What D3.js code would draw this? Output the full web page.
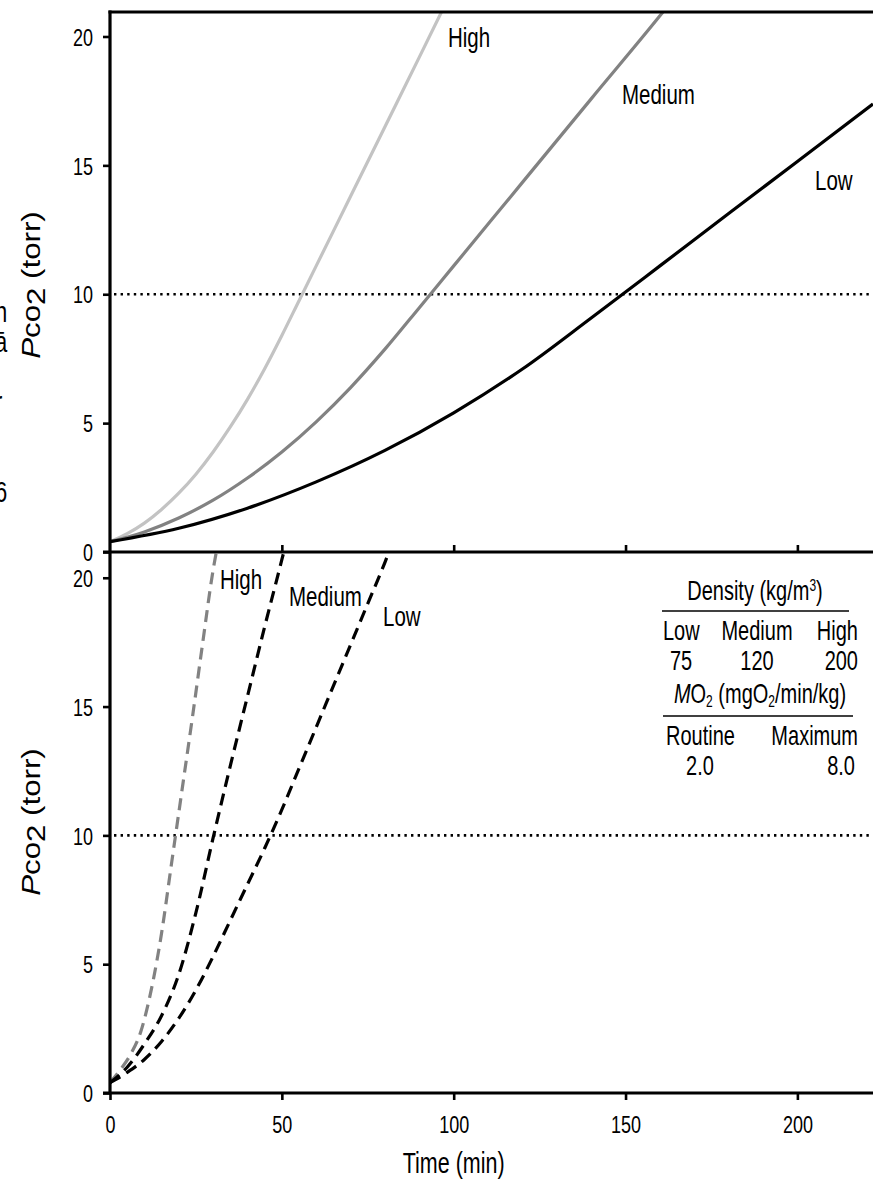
<!DOCTYPE html>
<html>
<head>
<meta charset="utf-8">
<script src="https://cdn.jsdelivr.net/npm/d3@7/dist/d3.min.js"></script>
<style>
  html, body { margin: 0; padding: 0; background: #fff; }
  svg { display: block; font-family: "Liberation Sans", Arial, sans-serif; }
</style>
</head>
<body>
<svg id="chart" width="873" height="1185"></svg>
<script>
// ---------------- DATA ----------------
const xTicks = [0, 50, 100, 150, 200];
const yTicks = [0, 5, 10, 15, 20];
const threshold = 10;

// Top panel (routine MO2), solid lines: [time(min), Pco2(torr)]
const topHigh = [[0,0.4],[5,0.71],[10,1.12],[15,1.65],[20,2.28],[25,3.02],[30,3.88],[35,4.85],[40,5.92],[45,7.11],[50,8.4],[55,9.75],[60,11.1],[70,13.8],[80,16.5],[90,19.2],[97,21.1]];
const topMedium = [[0,0.4],[10,0.78],[20,1.32],[30,2.01],[40,2.87],[50,3.88],[60,5.05],[70,6.38],[80,7.87],[90,9.48],[100,11.1],[120,14.34],[140,17.58],[160,20.8],[163,21.3]];
const topLow = [[0,0.4],[20,0.92],[40,1.7],[60,2.72],[80,3.94],[100,5.4],[120,7.1],[140,9.08],[160,11.1],[180,13.13],[200,15.15],[222,17.38]];

// Bottom panel (maximum MO2), dashed lines
const botHigh = [[0,0.4],[3,0.9],[6,1.5],[9,2.4],[12,4.0],[15,6.2],[18,9.0],[21,11.8],[24,14.6],[27,17.5],[30,20.3],[31.5,21.4]];
const botMedium = [[0,0.4],[5,1.0],[10,1.9],[15,3.0],[20,4.6],[25,7.0],[30,9.9],[35,12.7],[40,15.4],[45,18.1],[50,20.7],[51.5,21.5]];
const botLow = [[0,0.4],[5,0.8],[10,1.3],[15,2.0],[20,2.9],[25,4.0],[30,5.3],[35,6.7],[40,8.1],[45,9.5],[50,11.0],[55,12.6],[60,14.2],[65,15.8],[70,17.4],[75,19.0],[80,20.6],[82,21.3]];

const seriesNames = ["High", "Medium", "Low"];
const densityValues = ["75", "120", "200"];
const mo2Labels = ["Routine", "Maximum"];
const mo2Values = ["2.0", "8.0"];

// Fragments of cropped text at the left page edge
const edgeFragments = ["n", "ā", "l", "r", ".", ":", "6", ","];

// ---------------- LAYOUT ----------------
const svg = d3.select("#chart");
const left = 110, right = 873;
const topY0 = 12, mid = 552, botY1 = 1093;
const SY = 1.35; // vertical stretch of the lettering in the reference

const x = d3.scaleLinear().domain([0, 222]).range([left, right]);
const yTop = d3.scaleLinear().domain([0, 21]).range([mid, mid - 21 * (mid - topY0) / 20.95]);
const yBot = d3.scaleLinear().domain([0, 21]).range([botY1, mid]);

const font = "'Liberation Sans', Arial, sans-serif";

function stext(g, px, py, s, size, anchor) {
  return g.append("text")
    .attr("transform", `translate(${px},${py}) scale(1,${SY})`)
    .attr("font-size", size).attr("font-family", font).attr("fill", "#000")
    .attr("text-anchor", anchor || "start").text(s);
}

// clip paths
const defs = svg.append("defs");
defs.append("clipPath").attr("id", "clipTop").append("rect")
  .attr("x", left).attr("y", topY0).attr("width", right - left).attr("height", mid - topY0);
defs.append("clipPath").attr("id", "clipBot").append("rect")
  .attr("x", left).attr("y", mid).attr("width", right - left).attr("height", botY1 - mid);

// Left edge fragments
const gEdge = svg.append("g");
edgeFragments.forEach((d, i) => stext(gEdge, -5, 322 + i * 30, d, 22));

const line = (ys) => d3.line().x(d => x(d[0])).y(d => ys(d[1])).curve(d3.curveMonotoneX);

// ---- dotted thresholds
[yTop, yBot].forEach(ys => {
  svg.append("line")
    .attr("x1", left + 4).attr("x2", right)
    .attr("y1", ys(threshold)).attr("y2", ys(threshold))
    .attr("stroke", "#000").attr("stroke-width", 2.6)
    .attr("stroke-dasharray", "2.4,4.2");
});

// ---- top curves
const gTop = svg.append("g").attr("clip-path", "url(#clipTop)");
[[topHigh, "#c3c3c3"], [topMedium, "#828282"], [topLow, "#000"]].forEach(([data, col]) => {
  gTop.append("path").datum(data).attr("d", line(yTop))
    .attr("fill", "none").attr("stroke", col).attr("stroke-width", 3.2);
});

// ---- bottom curves
const gBot = svg.append("g").attr("clip-path", "url(#clipBot)");
[[botHigh, "#828282"], [botMedium, "#000"], [botLow, "#000"]].forEach(([data, col]) => {
  gBot.append("path").datum(data).attr("d", line(yBot))
    .attr("fill", "none").attr("stroke", col).attr("stroke-width", 3.2)
    .attr("stroke-dasharray", "12,7");
});

// ---- axes
function styleAxis(g) {
  g.selectAll("path.domain").attr("stroke", "#000").attr("stroke-width", 3.2);
  g.selectAll(".tick line").attr("stroke", "#000").attr("stroke-width", 2.6);
  g.selectAll(".tick text").attr("font-size", 18).attr("font-family", font).attr("fill", "#000");
}

function yAxis(ys) {
  const g = svg.append("g").attr("transform", `translate(${left},0)`)
    .call(d3.axisLeft(ys).tickValues(yTicks).tickSize(7).tickSizeOuter(0).tickPadding(10));
  styleAxis(g);
  g.selectAll(".tick text").attr("dy", "0.36em").attr("transform", `scale(1,${SY})`);
  return g;
}
const yAxTop = yAxis(yTop);
const yAxBot = yAxis(yBot);
yAxBot.select("path.domain").attr("d", `M0,${mid}V${botY1}`);
yAxTop.select("path.domain").attr("d", `M0,${topY0 - 1.5}V${mid}`);

// top border
svg.append("line").attr("x1", left - 1.5).attr("x2", right).attr("y1", topY0).attr("y2", topY0)
  .attr("stroke", "#000").attr("stroke-width", 3.2);

// middle x axis (ticks up, no labels)
const xAxMid = svg.append("g").attr("transform", `translate(0,${mid})`)
  .call(d3.axisTop(x).tickValues(xTicks.slice(1)).tickSize(7).tickSizeOuter(0).tickFormat(""));
styleAxis(xAxMid);
xAxMid.select("path.domain").attr("d", `M${left - 7},0H${right}`);

// bottom x axis
const xAxBot = svg.append("g").attr("transform", `translate(0,${botY1})`)
  .call(d3.axisBottom(x).tickValues(xTicks).tickSize(7).tickSizeOuter(0));
styleAxis(xAxBot);
xAxBot.select("path.domain").attr("d", `M${left - 7},0H${right}`);
xAxBot.selectAll(".tick text").attr("y", 40 / SY).attr("dy", 0).attr("transform", `scale(1,${SY})`);

// axis titles
stext(svg, x(100), 1173, "Time (min)", 21.5, "middle");

function yTitle(cy) {
  const t = svg.append("text")
    .attr("transform", `translate(40,${cy}) scale(1,1.25) rotate(-90)`)
    .attr("text-anchor", "middle").attr("font-size", 25).attr("font-family", font);
  t.append("tspan").attr("font-style", "italic").text("P");
  t.append("tspan").text("co");
  t.append("tspan").attr("dy", 5).text("2");
  t.append("tspan").attr("dy", -5).text(" (torr)");
}
yTitle(285);
yTitle(822);

// curve labels
const gl = svg.append("g");
stext(gl, 448, 47, seriesNames[0], 20.5);
stext(gl, 622, 104, seriesNames[1], 20.5);
stext(gl, 815, 190, seriesNames[2], 20.5);
stext(gl, 220, 589, seriesNames[0], 20.5);
stext(gl, 289, 606, seriesNames[1], 20.5);
stext(gl, 383, 626, seriesNames[2], 20.5);

// legend table
const lg = svg.append("g");
const LF = 20;
const dens = stext(lg, 755, 600, "", LF, "middle");
dens.append("tspan").text("Density (kg/m");
dens.append("tspan").attr("font-size", 12).attr("dy", -7).text("3");
dens.append("tspan").attr("dy", 7).text(")");
lg.append("line").attr("x1", 662).attr("x2", 849).attr("y1", 611).attr("y2", 611)
  .attr("stroke", "#000").attr("stroke-width", 1.6);
stext(lg, 663, 640, seriesNames[2], LF);
stext(lg, 757, 640, seriesNames[1], LF, "middle");
stext(lg, 858, 640, seriesNames[0], LF, "end");
stext(lg, 681, 670, densityValues[0], LF, "middle");
stext(lg, 757, 670, densityValues[1], LF, "middle");
stext(lg, 858, 670, densityValues[2], LF, "end");

const mo = stext(lg, 760, 703, "", LF, "middle");
mo.append("tspan").attr("font-style", "italic").text("M");
mo.append("tspan").text("O");
mo.append("tspan").attr("font-size", 12).attr("dy", 3).text("2");
mo.append("tspan").attr("dy", -3).text(" (mgO");
mo.append("tspan").attr("font-size", 12).attr("dy", 3).text("2");
mo.append("tspan").attr("dy", -3).text("/min/kg)");
lg.append("line").attr("x1", 663).attr("x2", 853).attr("y1", 716).attr("y2", 716)
  .attr("stroke", "#000").attr("stroke-width", 1.6);
stext(lg, 666, 745, mo2Labels[0], LF);
stext(lg, 858, 745, mo2Labels[1], LF, "end");
stext(lg, 700, 775, mo2Values[0], LF, "middle");
stext(lg, 855, 775, mo2Values[1], LF, "end");
</script>
</body>
</html>
